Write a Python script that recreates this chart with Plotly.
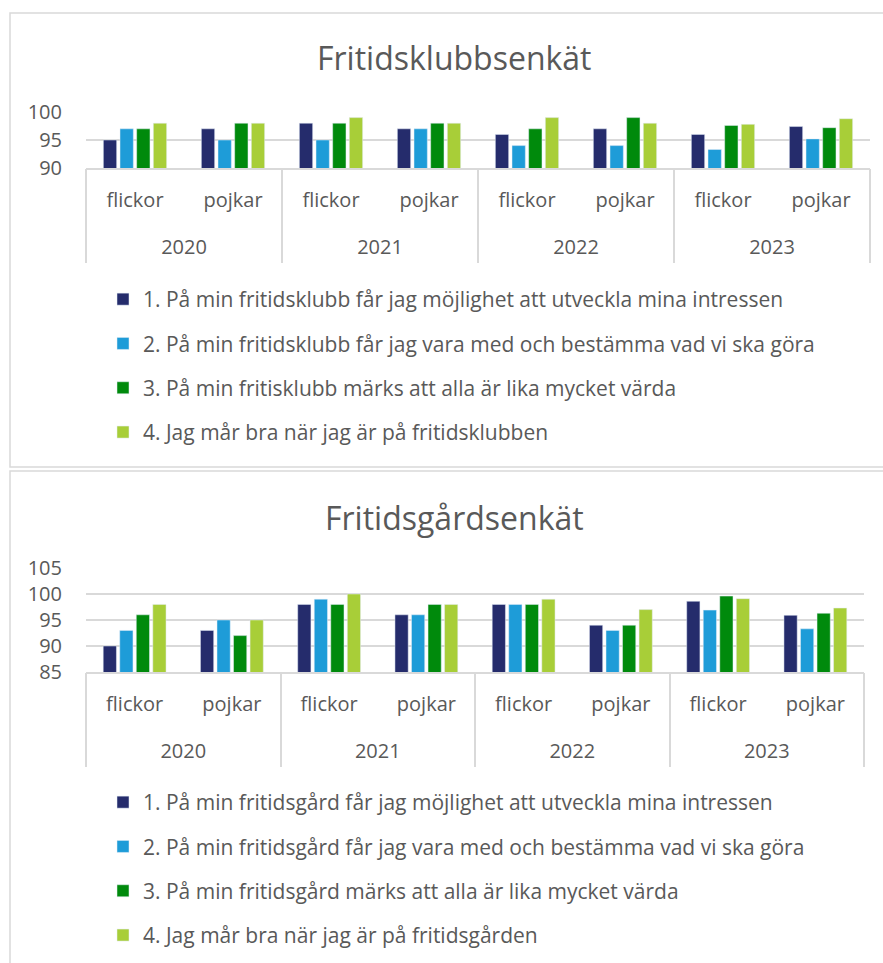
import plotly.graph_objects as go

W, H = 883, 963

years = ["2020", "2020", "2021", "2021", "2022", "2022", "2023", "2023"]
genders = ["flickor", "pojkar", "flickor", "pojkar", "flickor", "pojkar", "flickor", "pojkar"]

klubb_names = [
    "1. På min fritidsklubb får jag möjlighet att utveckla mina intressen",
    "2. På min fritidsklubb får jag vara med och bestämma vad vi ska göra",
    "3. På min fritisklubb märks att alla är lika mycket värda",
    "4. Jag mår bra när jag är på fritidsklubben",
]
klubb_q1 = [95, 97, 98, 97, 96, 97, 96, 97.4]
klubb_q2 = [97, 95, 95, 97, 94, 94, 93.3, 95.2]
klubb_q3 = [97, 98, 98, 98, 97, 99, 97.6, 97.2]
klubb_q4 = [98, 98, 99, 98, 99, 98, 97.8, 98.8]

gard_names = [
    "1. På min fritidsgård får jag möjlighet att utveckla mina intressen",
    "2. På min fritidsgård får jag vara med och bestämma vad vi ska göra",
    "3. På min fritidsgård märks att alla är lika mycket värda",
    "4. Jag mår bra när jag är på fritidsgården",
]
gard_q1 = [90, 93, 98, 96, 98, 94, 98.6, 95.9]
gard_q2 = [93, 95, 99, 96, 98, 93, 96.9, 93.3]
gard_q3 = [96, 92, 98, 98, 98, 94, 99.6, 96.3]
gard_q4 = [98, 95, 100, 98, 99, 97, 99.1, 97.3]

titles = ["Fritidsklubbsenkät", "Fritidsgårdsenkät"]
colors = ["#252C6C", "#1E9CD8", "#008A0C", "#A8CE38"]

FONT = "Open Sans"
TXT = "#595959"
GRID = "#D9D9D9"
FS = 20
LFS = 21

def px(v):
    return v / W

def py(v):
    return 1 - v / H

# category keys (unique) and year-group geometry derived from the data lists
keys = [y + " " + g for y, g in zip(years, genders)]
n = len(keys)
year_list = []
for y in years:
    if y not in year_list:
        year_list.append(y)
year_centers = [sum(i for i, yy in enumerate(years) if yy == y) / years.count(y) for y in year_list]
boundaries = [-0.5]
for y in year_list:
    boundaries.append(max(i for i, yy in enumerate(years) if yy == y) + 0.5)

fig = go.Figure()

for i, (name, vals) in enumerate(zip(klubb_names, [klubb_q1, klubb_q2, klubb_q3, klubb_q4])):
    fig.add_trace(go.Bar(x=keys, y=vals, name=name, marker_color=colors[i],
                         xaxis="x", yaxis="y", legend="legend", legendgroup="k%d" % i))
for i, (name, vals) in enumerate(zip(gard_names, [gard_q1, gard_q2, gard_q3, gard_q4])):
    fig.add_trace(go.Bar(x=keys, y=vals, name=name, marker_color=colors[i],
                         xaxis="x2", yaxis="y2", legend="legend2", legendgroup="g%d" % i))
# invisible helpers so the year axes exist
fig.add_trace(go.Scatter(x=[year_centers[0]], y=[None], xaxis="x3", yaxis="y", showlegend=False,
                         hoverinfo="skip", mode="markers"))
fig.add_trace(go.Scatter(x=[year_centers[0]], y=[None], xaxis="x4", yaxis="y2", showlegend=False,
                         hoverinfo="skip", mode="markers"))

rng = [-0.5, n - 0.5]
tf = dict(family=FONT, size=FS, color=TXT)
lf = dict(family=FONT, size=LFS, color=TXT)

xinner = dict(type="category", range=rng, showline=True, linecolor=GRID, linewidth=2,
              tickmode="array", tickvals=keys, ticktext=genders, ticks="",
              ticklabelstandoff=13, tickfont=tf, showgrid=False, zeroline=False, fixedrange=True)
xouter = dict(type="linear", range=rng, showline=False, tickmode="array", tickvals=year_centers,
              ticktext=year_list, ticks="", ticklabelstandoff=65, tickfont=tf, showgrid=False,
              zeroline=False, fixedrange=True, side="bottom",
              minor=dict(tickmode="array", tickvals=boundaries, ticks="outside", ticklen=94,
                         tickwidth=2, tickcolor=GRID, showgrid=False))
ycommon = dict(showgrid=True, gridcolor=GRID, gridwidth=1.5, showline=False, zeroline=False,
               tickfont=tf, dtick=5, ticklabelstandoff=23, fixedrange=True)

fig.update_layout(
    width=W, height=H,
    margin=dict(l=0, r=0, t=0, b=0, autoexpand=False),
    paper_bgcolor="white", plot_bgcolor="white",
    barmode="group", bargap=0.32, bargroupgap=0.2,
    xaxis=dict(domain=[px(86), px(870)], anchor="y", **xinner),
    xaxis3=dict(domain=[px(86), px(870)], anchor="y", overlaying="x", **xouter),
    yaxis=dict(domain=[py(168), py(112)], anchor="x", range=[90, 100], **ycommon),
    xaxis2=dict(domain=[px(86), px(864)], anchor="y2", **xinner),
    xaxis4=dict(domain=[px(86), px(864)], anchor="y2", overlaying="x2", **xouter),
    yaxis2=dict(domain=[py(672), py(568)], anchor="x2", range=[85, 105], **ycommon),
    legend=dict(x=px(103), y=py(279), xanchor="left", yanchor="top",
                font=lf, traceorder="grouped", tracegroupgap=14, bgcolor="rgba(0,0,0,0)"),
    legend2=dict(x=px(103), y=py(782), xanchor="left", yanchor="top",
                 font=lf, traceorder="grouped", tracegroupgap=14, bgcolor="rgba(0,0,0,0)"),
    showlegend=True,
)

# chart borders
fig.add_shape(type="rect", xref="paper", yref="paper", x0=px(10), x1=px(900), y0=py(467), y1=py(13),
              line=dict(color=GRID, width=1.5), layer="below")
fig.add_shape(type="rect", xref="paper", yref="paper", x0=px(10), x1=px(900), y0=py(990), y1=py(471),
              line=dict(color=GRID, width=1.5), layer="below")

for t, yc in zip(titles, [57, 517]):
    fig.add_annotation(text=t, xref="paper", yref="paper", x=px(454), y=py(yc),
                       xanchor="center", yanchor="middle", showarrow=False,
                       font=dict(family=FONT, size=32, color=TXT))

fig.write_html("out.html", config={"displayModeBar": False},
               post_script="document.body.style.margin='0';document.body.style.overflow='hidden';")
